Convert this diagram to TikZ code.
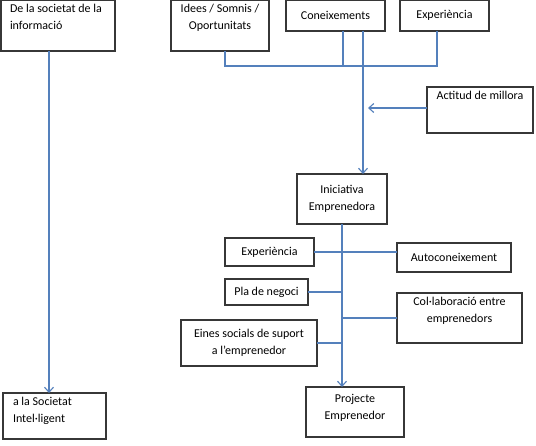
\documentclass[tikz,border=0pt]{standalone}
\usepackage{fontspec}
\setmainfont{Carlito}
\usetikzlibrary{arrows.meta}
\definecolor{conn}{RGB}{84,128,188}
\definecolor{boxc}{RGB}{55,55,55}
\tikzset{
  box/.style={draw=boxc, line width=1.1pt, inner sep=0pt, outer sep=0pt, font=\fontsize{12}{17}\selectfont, align=center},
  link/.style={draw=conn, line width=1.3pt},
  arr/.style={link, -{Straight Barb[length=5pt,width=9pt,line width=1.1pt]}}
}
\newcommand{\tbox}[3]{\parbox[t][#1][t]{#2}{#3}}
\begin{document}
\begin{tikzpicture}[x=1pt,y=-1pt]
\useasboundingbox (0,0) rectangle (536,445);
% top row
\node[box, minimum width=114pt, minimum height=51pt] (soc) at (58,25.5)
  {\tbox{43pt}{96pt}{\raggedright De la societat de la\\informació}};
\node[box, minimum width=98pt, minimum height=51pt] (idees) at (220,25.5)
  {\tbox{43pt}{96pt}{\centering Idees / Somnis /\\Oportunitats}};
\node[box, minimum width=99pt, minimum height=31pt] (conei) at (335.5,15.5) {Coneixements};
\node[box, minimum width=89pt, minimum height=31pt] (exp1) at (444.5,15.5) {Experiència};
\node[box, minimum width=106pt, minimum height=46pt] (act) at (480,110)
  {\tbox{38pt}{104pt}{\centering Actitud de millora}};
\node[box, minimum width=90pt, minimum height=50pt] (inic) at (342,199) {Iniciativa\\Emprenedora};
% middle
\node[box, minimum width=89pt, minimum height=28pt] (exp2) at (269.5,252) {Experiència};
\node[box, minimum width=114pt, minimum height=29pt] (auto) at (454,257.5) {Autoconeixement};
\node[box, minimum width=83pt, minimum height=26pt] (pla) at (266.5,292) {Pla de negoci};
\node[box, minimum width=125pt, minimum height=50pt] (colab) at (459.5,318)
  {\tbox{42pt}{123pt}{\centering Col·laboració entre\\emprenedors}};
\node[box, minimum width=136pt, minimum height=46pt] (eines) at (249,343) {Eines socials de suport\\a l’emprenedor};
% bottom
\node[box, minimum width=103pt, minimum height=46pt] (intel) at (54.5,416)
  {\tbox{38pt}{83pt}{\raggedright a la Societat\\Intel·ligent}};
\node[box, minimum width=98pt, minimum height=50pt] (proj) at (355,412)
  {\tbox{42pt}{96pt}{\centering\vspace*{3pt}Projecte\\Emprenedor}};
% junction coordinates
\coordinate (jI) at (225,66);
\coordinate (jE) at (437,66);
\coordinate (jC) at (343,66);
\coordinate (actT) at (368,108);
% connectors
\draw[arr] (soc.south -| 49,0) -- (intel.north -| 49,0);
\draw[link] (idees.south -| jI) -- (jI) -- (jE) -- (exp1.south -| jE);
\draw[link] (conei.south -| jC) -- (jC);
\draw[arr] (conei.south -| 363,0) -- (inic.north -| 363,0);
\draw[arr] (act.west |- actT) -- (actT);
\draw[arr] (inic.south) -- (inic.south |- proj.north);
\draw[link] (exp2.east) -- (exp2.east -| auto.west);
\draw[link] (pla.east) -- (pla.east -| inic.south);
\draw[link] (colab.west) -- (colab.west -| inic.south);
\draw[link] (eines.east) -- (eines.east -| inic.south);
\end{tikzpicture}
\end{document}
